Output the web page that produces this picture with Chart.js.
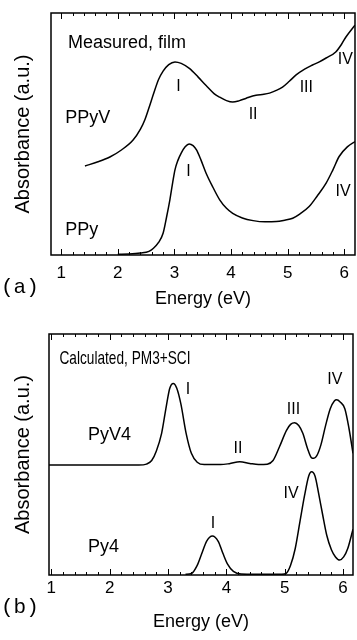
<!DOCTYPE html>
<html>
<head>
<meta charset="utf-8">
<script src="https://cdn.jsdelivr.net/npm/chart.js@4.4.0/dist/chart.umd.min.js"></script>
<style>
    html, body { margin: 0; padding: 0; background: #fff; }
    body { width: 357px; height: 640px; position: relative; overflow: hidden; }
    .panel { position: absolute; left: 0; width: 357px; height: 320px; }
    #panelA { top: 0; }
    #panelB { top: 320px; }
</style>
</head>
<body>
<div class="panel" id="panelA"><canvas id="chartA" width="357" height="320"></canvas></div>
<div class="panel" id="panelB"><canvas id="chartB" width="357" height="320"></canvas></div>
<script>
// (a) measured film spectra
const ppyvEnergy = [1.42, 1.65, 1.86, 2.07, 2.27, 2.40, 2.48, 2.56, 2.63, 2.72, 2.80, 2.90, 3.01, 3.12, 3.27, 3.42, 3.56, 3.70, 3.80, 3.92, 4.03, 4.15, 4.27, 4.44, 4.58, 4.68, 4.80, 4.91, 5.03, 5.15, 5.30, 5.44, 5.56, 5.68, 5.85, 5.95, 6.03, 6.19];
const ppyvAbs = [0.368, 0.385, 0.405, 0.435, 0.475, 0.520, 0.560, 0.615, 0.665, 0.725, 0.760, 0.787, 0.798, 0.792, 0.770, 0.735, 0.700, 0.667, 0.652, 0.638, 0.632, 0.638, 0.648, 0.660, 0.664, 0.669, 0.680, 0.694, 0.718, 0.744, 0.768, 0.785, 0.798, 0.814, 0.839, 0.870, 0.901, 0.950];
const ppyEnergy = [2.00, 2.20, 2.40, 2.55, 2.63, 2.72, 2.80, 2.86, 2.92, 2.97, 3.01, 3.06, 3.12, 3.19, 3.26, 3.33, 3.39, 3.47, 3.56, 3.68, 3.80, 3.92, 4.03, 4.20, 4.39, 4.60, 4.80, 4.95, 5.09, 5.22, 5.38, 5.52, 5.68, 5.80, 5.91, 6.06, 6.19];
const ppyAbs = [0.003, 0.004, 0.008, 0.015, 0.028, 0.052, 0.090, 0.155, 0.228, 0.300, 0.352, 0.390, 0.421, 0.447, 0.459, 0.452, 0.434, 0.392, 0.338, 0.280, 0.228, 0.193, 0.172, 0.153, 0.142, 0.137, 0.138, 0.144, 0.152, 0.170, 0.200, 0.243, 0.297, 0.352, 0.407, 0.448, 0.469];

// (b) calculated PM3+SCI spectra
const pyv4Energy = [0.90, 2.50, 2.63, 2.72, 2.80, 2.89, 2.97, 3.03, 3.09, 3.15, 3.22, 3.31, 3.40, 3.50, 3.62, 3.90, 4.05, 4.23, 4.40, 4.55, 4.70, 4.80, 4.91, 5.03, 5.10, 5.17, 5.24, 5.31, 5.39, 5.46, 5.50, 5.55, 5.62, 5.70, 5.78, 5.85, 5.89, 5.95, 6.03, 6.10, 6.17];
const pyv4Abs = [0.456, 0.456, 0.460, 0.475, 0.515, 0.588, 0.700, 0.775, 0.795, 0.775, 0.710, 0.588, 0.505, 0.468, 0.458, 0.458, 0.462, 0.470, 0.463, 0.458, 0.460, 0.475, 0.532, 0.600, 0.625, 0.632, 0.620, 0.588, 0.525, 0.486, 0.484, 0.495, 0.540, 0.620, 0.690, 0.722, 0.727, 0.718, 0.690, 0.610, 0.505];
const py4Energy = [3.30, 3.40, 3.50, 3.58, 3.66, 3.76, 3.86, 3.94, 4.02, 4.12, 4.25, 4.50, 4.95, 5.03, 5.10, 5.18, 5.26, 5.34, 5.41, 5.46, 5.52, 5.58, 5.65, 5.72, 5.80, 5.87, 5.94, 6.01, 6.08, 6.17];
const py4Abs = [0.003, 0.006, 0.040, 0.090, 0.140, 0.162, 0.140, 0.090, 0.045, 0.015, 0.004, 0.003, 0.003, 0.008, 0.040, 0.110, 0.220, 0.330, 0.410, 0.428, 0.410, 0.340, 0.250, 0.165, 0.105, 0.075, 0.062, 0.075, 0.110, 0.190];

const energyTicks = [1, 2, 3, 4, 5, 6];

// annotation text, placed in data units
const labelsA = [
    { text: 'Measured, film', x: 1.12, y: 0.876, size: 18, align: 'left' },
    { text: 'PPyV', x: 1.07, y: 0.566, size: 18, align: 'left' },
    { text: 'I', x: 3.07, y: 0.694, size: 16 },
    { text: 'II', x: 4.39, y: 0.579, size: 16 },
    { text: 'III', x: 5.33, y: 0.690, size: 16 },
    { text: 'IV', x: 6.02, y: 0.806, size: 16 },
    { text: 'PPy', x: 1.07, y: 0.103, size: 18, align: 'left' },
    { text: 'I', x: 3.25, y: 0.343, size: 16 },
    { text: 'IV', x: 5.98, y: 0.260, size: 16 }
];
const labelsB = [
    { text: 'Calculated, PM3+SCI', x: 1.14, y: 0.899, size: 19, align: 'left', maxWidth: 131 },
    { text: 'PyV4', x: 1.63, y: 0.581, size: 18, align: 'left' },
    { text: 'I', x: 3.34, y: 0.768, size: 16 },
    { text: 'II', x: 4.20, y: 0.526, size: 16 },
    { text: 'III', x: 5.15, y: 0.687, size: 16 },
    { text: 'IV', x: 5.86, y: 0.812, size: 16 },
    { text: 'IV', x: 5.11, y: 0.339, size: 16 },
    { text: 'I', x: 3.77, y: 0.214, size: 16 },
    { text: 'Py4', x: 1.63, y: 0.118, size: 18, align: 'left' }
];

Chart.defaults.font.family = '"Liberation Sans", Arial, Helvetica, sans-serif';
Chart.defaults.color = '#000';

// box frame, inward ticks on top and bottom, text labels
const frameTicks = {
    id: 'frameTicks',
    afterDatasetsDraw(chart, args, opts) {
        const { ctx, chartArea: a, scales: { x, y } } = chart;
        ctx.save();
        ctx.strokeStyle = '#000';
        ctx.lineWidth = 1;
        for (let i = Math.ceil(x.min / 0.2 - 1e-6); i * 0.2 <= x.max + 1e-6; i++) {
            const v = i * 0.2;
            const len = Math.abs(v - Math.round(v)) < 1e-6 ? 6 : 3;
            const px = Math.round(x.getPixelForValue(v)) + 0.5;
            ctx.beginPath();
            ctx.moveTo(px, a.bottom); ctx.lineTo(px, a.bottom - len);
            ctx.moveTo(px, a.top); ctx.lineTo(px, a.top + len);
            ctx.stroke();
        }
        ctx.lineWidth = 1.5;
        ctx.strokeRect(a.left, a.top, a.right - a.left, a.bottom - a.top);

        ctx.fillStyle = '#000';
        ctx.textBaseline = 'middle';
        opts.labels.forEach(l => {
            ctx.font = l.size + 'px "Liberation Sans", Arial, sans-serif';
            ctx.textAlign = l.align || 'center';
            const px = x.getPixelForValue(l.x), py = y.getPixelForValue(l.y);
            if (l.maxWidth) ctx.fillText(l.text, px, py, l.maxWidth);
            else ctx.fillText(l.text, px, py);
        });
        ctx.font = '21px "Liberation Mono", "DejaVu Sans Mono", monospace';
        ctx.textAlign = 'left';
        ctx.fillText(opts.panel, 1, opts.panelY);
        ctx.restore();
    }
};

function buildPanel(canvasId, series, xMin, xMax, area, tickPad, titlePad, labels, panel) {
    return new Chart(document.getElementById(canvasId), {
        type: 'line',
        data: {
            datasets: series.map(s => ({
                data: s.energy.map((e, i) => ({ x: e, y: s.abs[i] })),
                borderColor: '#000',
                borderWidth: 1.5,
                pointRadius: 0,
                fill: false,
                cubicInterpolationMode: 'monotone'
            }))
        },
        options: {
            responsive: false,
            animation: false,
            devicePixelRatio: 1,
            layout: { padding: { top: area.top, right: 357 - area.right, left: 0, bottom: 0 } },
            plugins: {
                legend: { display: false },
                tooltip: { enabled: false },
                frameTicks: { labels: labels, panel: panel, panelY: 287 }
            },
            scales: {
                x: {
                    type: 'linear', min: xMin, max: xMax,
                    afterBuildTicks: s => { s.ticks = energyTicks.map(v => ({ value: v })); },
                    afterFit: s => { s.height = 320 - area.bottom; },
                    grid: { display: false, drawTicks: false },
                    border: { display: false },
                    ticks: { font: { size: 17 }, padding: tickPad, color: '#000', maxRotation: 0 },
                    title: { display: true, text: 'Energy (eV)', font: { size: 18 }, padding: { top: 0, bottom: titlePad }, color: '#000' }
                },
                y: {
                    min: 0, max: 1,
                    afterFit: s => { s.width = area.left; },
                    ticks: { display: false },
                    grid: { display: false, drawTicks: false },
                    border: { display: false },
                    title: { display: true, text: 'Absorbance (a.u.)', font: { size: 20 }, padding: { top: 11, bottom: 0 }, color: '#000' }
                }
            }
        },
        plugins: [frameTicks]
    });
}

buildPanel('chartA',
    [{ energy: ppyvEnergy, abs: ppyvAbs }, { energy: ppyEnergy, abs: ppyAbs }],
    0.82, 6.19, { left: 51, right: 356, top: 13, bottom: 255 }, 8, 10, labelsA, '(a)');

buildPanel('chartB',
    [{ energy: pyv4Energy, abs: pyv4Abs }, { energy: py4Energy, abs: py4Abs }],
    0.96, 6.17, { left: 49, right: 353, top: 14, bottom: 255 }, 3, 7, labelsB, '(b)');
</script>
</body>
</html>
